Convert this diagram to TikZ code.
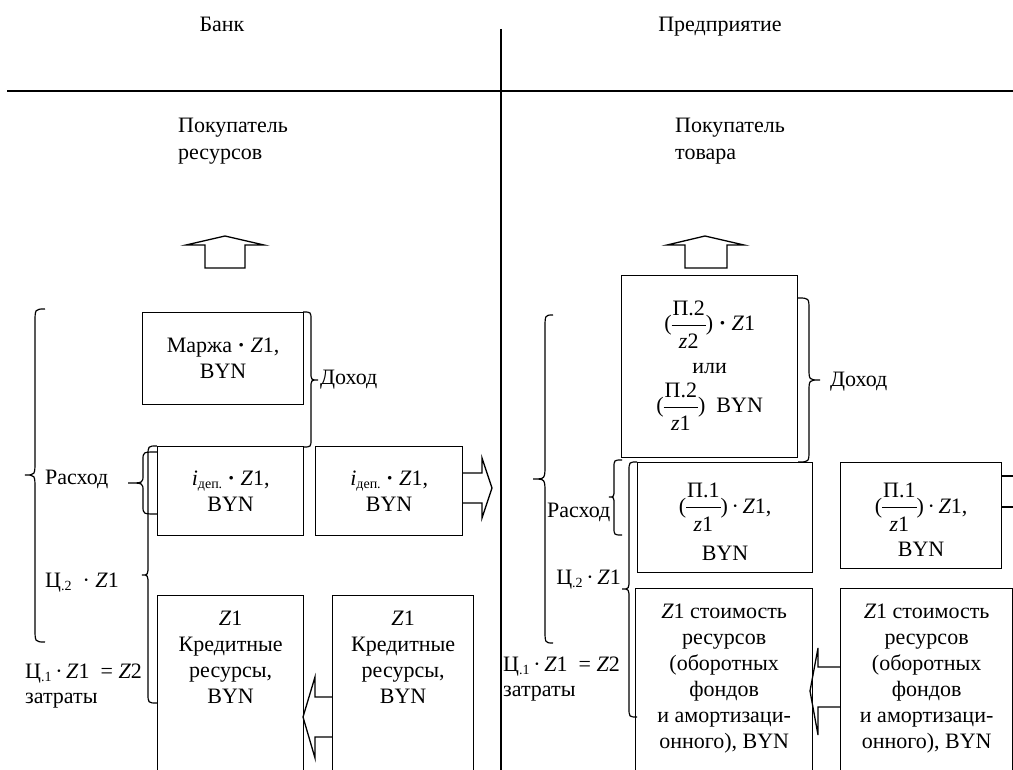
\documentclass[tikz,border=0pt]{standalone}
\usepackage{fontspec}
\setmainfont{Liberation Serif}
\usetikzlibrary{calc}
\newcommand\fs{\fontsize{22}{26}\selectfont}
\newcommand\frc[2]{\ensuremath{\vcenter{\hbox{\setlength\arrayrulewidth{0.9pt}\setlength\tabcolsep{1pt}\renewcommand\arraystretch{1.25}\begin{tabular}{c}#1\\\hline #2\end{tabular}}}}}
\newcommand\dotop{\textbf{·}}
\newcommand\subs[1]{\raisebox{-3pt}{\fontsize{14}{14}\selectfont #1}}
% xe, xv, xt, ytop, ymid, ybot, radius
\newcommand\bracel[7]{\draw[brc] (#1,#4) .. controls (#2,#4) .. (#2,#4+#7) -- (#2,#5-#7) .. controls (#2,#5) .. (#3,#5) .. controls (#2,#5) .. (#2,#5+#7) -- (#2,#6-#7) .. controls (#2,#6) .. (#1,#6);}
\begin{document}
\begin{tikzpicture}[x=1pt,y=-1pt,
  box/.style={draw,line width=1.3pt,inner sep=0pt,align=center,font=\fs},
  lbl/.style={inner sep=0pt,font=\fontsize{22}{26}\selectfont,align=left},
  brc/.style={line width=1.2pt},
  blk/.style={line width=1.3pt,line join=miter}]
\clip (0,0) rectangle (1013,770);
\fill[white] (0,0) rectangle (1013,770);
% titles and dividers
\node[lbl,anchor=base] (bank) at (222,32) {Банк};
\node[lbl,anchor=base] (ent) at (720,32) {Предприятие};
\coordinate (vtop) at (501,29); \coordinate (vbot) at (501,770);
\coordinate (hl) at (7,91); \coordinate (hr) at (1013,91);
\draw[line width=1.3pt] (vtop) -- (vbot);
\draw[line width=1.3pt] (hl) -- (hr);
\node[lbl,anchor=west,font=\fontsize{22}{27}\selectfont] (buyres) at (178,141.5) {Покупатель\\ресурсов};
\node[lbl,anchor=west,font=\fontsize{22}{27}\selectfont] (buygood) at (675,141.5) {Покупатель\\товара};
% ---- Bank side
\draw[blk] (205,268) -- (205,245) -- (186,245) -- (225,236) -- (264,245) -- (245,245) -- (245,268) -- cycle;
\node[box,minimum width=161,minimum height=92,anchor=north west] (marzha) at (142,312) {Маржа \dotop\ \textit{Z}1,\\BYN};
\node[box,minimum width=146,minimum height=89,anchor=north west] (idep1) at (157,446) {\textit{i}\subs{деп.} \dotop\ \textit{Z}1,\\BYN};
\node[box,minimum width=147,minimum height=89,anchor=north west] (idep2) at (315,446) {\textit{i}\subs{деп.} \dotop\ \textit{Z}1,\\BYN};
\node[box,anchor=north west] (kred1) at (157,595) {\parbox[c][200pt][t]{146pt}{\centering\vspace*{15pt}\textit{Z}1\\Кредитные\\ресурсы,\\BYN}};
\node[box,anchor=north west] (kred2) at (332,595) {\parbox[c][200pt][t]{141pt}{\centering\vspace*{15pt}\textit{Z}1\\Кредитные\\ресурсы,\\BYN}};
\draw[blk] (462,473) -- (482,473) -- (482,458) -- (492,488) -- (482,518) -- (482,503) -- (462,503);
\draw[blk] (332,697) -- (315,697) -- (315,677) -- (303,717) -- (315,758) -- (315,737) -- (332,737);
\bracel{45}{35}{25}{309}{475}{642}{14}
\bracel{303}{311}{318}{312}{380}{447}{8}
\bracel{157}{143}{128}{452}{483}{514}{8}
\bracel{157}{148}{142}{446}{575}{703}{10}
\node[lbl,anchor=west] (inc1) at (320,380) {Доход};
\node[lbl,anchor=west] (exp1) at (45,479) {Расход};
\node[lbl,anchor=west] (c21) at (45,583) {Ц\subs{.2} \ · \textit{Z}1};
\node[lbl,anchor=west,font=\fontsize{22}{25}\selectfont] (c11) at (25,686) {Ц\subs{.1}\,·\,\textit{Z}1 \ = \textit{Z}2\\затраты};
% ---- Enterprise side
\draw[blk] (685,268) -- (685,245) -- (667,245) -- (705,236) -- (744,245) -- (727,245) -- (727,268) -- cycle;
\node[box,minimum width=176,minimum height=182,anchor=north west] (p2) at (621,275) {(\frc{П.2}{\textit{z}2}) \dotop\ \textit{Z}1\\[4pt]или\\[0pt](\frc{П.2}{\textit{z}1}) \ BYN};
\node[box,minimum width=175,minimum height=110,anchor=north west] (p1a) at (637,462) {(\frc{П.1}{\textit{z}1})\,·\,\textit{Z}1,\\[4pt]BYN};
\node[box,minimum width=161,minimum height=106,anchor=north west] (p1b) at (840,462) {(\frc{П.1}{\textit{z}1})\,·\,\textit{Z}1,\\[0pt]BYN};
\node[box,anchor=north west] (st1) at (635,588) {\parbox[c][200pt][t]{177pt}{\centering\vspace*{15pt}\textit{Z}1 стоимость\\ресурсов\\(оборотных\\фондов\\и амортизаци-\\онного), BYN}};
\node[box,anchor=north west] (st2) at (840,588) {\parbox[c][200pt][t]{172pt}{\centering\vspace*{15pt}\textit{Z}1 стоимость\\ресурсов\\(оборотных\\фондов\\и амортизаци-\\онного), BYN}};
\draw[blk] (1001,476) -- (1016,476);
\draw[blk] (1001,507) -- (1016,507);
\draw[blk] (840,667) -- (818,667) -- (818,648) -- (810,691) -- (818,735) -- (818,707) -- (840,707);
\bracel{553}{545}{533}{315}{479}{643}{14}
\bracel{798}{809}{820}{298}{380}{462}{12}
\bracel{622}{614}{609}{460}{497}{535}{8}
\bracel{637}{629}{622}{462}{589}{717}{10}
\node[lbl,anchor=west] (inc2) at (830,382) {Доход};
\node[lbl,anchor=west] (exp2) at (547,512) {Расход};
\node[lbl,anchor=east] (c22) at (621,580) {Ц\subs{.2}\,·\,\textit{Z}1};
\node[lbl,anchor=west,font=\fontsize{22}{25}\selectfont] (c12) at (503,679) {Ц\subs{.1}\,·\,\textit{Z}1 \ = \textit{Z}2\\затраты};
\end{tikzpicture}
\end{document}
